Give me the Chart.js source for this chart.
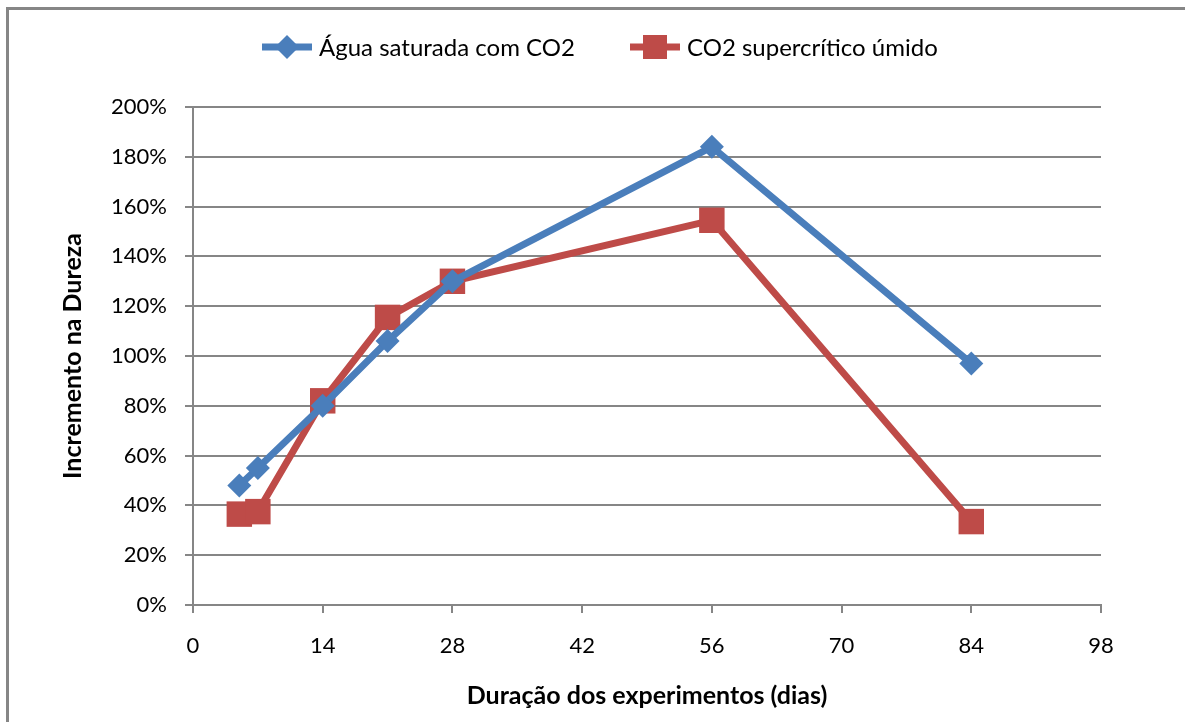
<!DOCTYPE html>
<html>
<head>
<meta charset="utf-8">
<script src="https://cdn.jsdelivr.net/npm/chart.js@4"></script>
<style>
  html, body { margin: 0; padding: 0; background: #fff; }
  #grafico { display: block; }
</style>
</head>
<body>
<canvas id="grafico" width="1185" height="722"></canvas>
<script>
// duração em dias e incremento na dureza (%)
const dias = [5, 7, 14, 21, 28, 56, 84];
const aguaSaturada = [48, 55, 80, 106, 130, 184, 97];
const co2Supercritico = [36.5, 37.5, 82, 115.5, 130, 154.5, 33.5];
const ticksX = [0, 14, 28, 42, 56, 70, 84, 98];
const ticksY = [0, 20, 40, 60, 80, 100, 120, 140, 160, 180, 200];

const AZUL = '#4a7ebb';
const VERMELHO = '#be4b48';
const CINZA = '#868686';
const FONTE = 'Lato, "Open Sans", sans-serif';

const pontos = (xs, ys) => xs.map((x, i) => ({ x: x, y: ys[i] }));

// moldura e legenda desenhadas à mão
const extras = {
  id: 'extras',
  beforeDraw(chart) {
    const c = chart.ctx;
    c.save();
    c.strokeStyle = CINZA;
    c.lineWidth = 3;
    c.strokeRect(7.5, 8.5, 1300, 900);
    c.restore();
  },
  afterDraw(chart) {
    const c = chart.ctx;
    const itens = [
      { x: 262, cor: AZUL, estilo: 'rectRot', raio: 12, texto: 'Água saturada com CO2' },
      { x: 630, cor: VERMELHO, estilo: 'rect', raio: 17, texto: 'CO2 supercrítico úmido' }
    ];
    const y = 47;
    c.save();
    itens.forEach(it => {
      c.strokeStyle = it.cor;
      c.lineWidth = 7;
      c.beginPath();
      c.moveTo(it.x, y);
      c.lineTo(it.x + 50, y);
      c.stroke();
      c.fillStyle = it.cor;
      Chart.helpers.drawPoint(c, { pointStyle: it.estilo, radius: it.raio, borderWidth: 0 }, it.x + 25, y);
      c.fillStyle = '#000';
      c.font = '24px ' + FONTE;
      c.textBaseline = 'middle';
      c.textAlign = 'left';
      c.fillText(it.texto, it.x + 57, y + 1);
    });
    c.restore();
  }
};

new Chart(document.getElementById('grafico'), {
  type: 'line',
  data: {
    datasets: [{
      label: 'Água saturada com CO2',
      data: pontos(dias, aguaSaturada),
      borderColor: AZUL,
      backgroundColor: AZUL,
      borderWidth: 7,
      pointStyle: 'rectRot',
      pointRadius: 12,
      pointBorderWidth: 0,
      tension: 0
    }, {
      label: 'CO2 supercrítico úmido',
      data: pontos(dias, co2Supercritico),
      borderColor: VERMELHO,
      backgroundColor: VERMELHO,
      borderWidth: 7,
      pointStyle: 'rect',
      pointRadius: 18,
      pointBorderWidth: 0,
      tension: 0
    }]
  },
  options: {
    responsive: false,
    animation: false,
    layout: { padding: { top: 107, right: 84, left: 0, bottom: 0 } },
    plugins: {
      legend: { display: false },
      tooltip: { enabled: false }
    },
    scales: {
      x: {
        type: 'linear',
        min: 0,
        max: 98,
        afterFit(s) { s.height = 117; },
        afterBuildTicks(s) { s.ticks = ticksX.map(v => ({ value: v })); },
        grid: { drawOnChartArea: false, color: CINZA, lineWidth: 2, tickLength: 8 },
        border: { color: CINZA, width: 2 },
        ticks: { color: '#000', font: { family: FONTE, size: 22 }, padding: 20, maxRotation: 0 },
        title: {
          display: true,
          text: 'Duração dos experimentos (dias)',
          color: '#000',
          font: { family: FONTE, size: 25, weight: 'bold' },
          padding: { top: 0, bottom: 11 }
        }
      },
      y: {
        min: 0,
        max: 200,
        afterFit(s) { s.width = 193; },
        afterBuildTicks(s) { s.ticks = ticksY.map(v => ({ value: v })); },
        grid: { color: CINZA, lineWidth: 2, tickLength: 8 },
        border: { color: CINZA, width: 2 },
        ticks: { color: '#000', font: { family: FONTE, size: 22 }, padding: 18, callback: v => v + '%' },
        title: {
          display: true,
          text: 'Incremento na Dureza',
          color: '#000',
          font: { family: FONTE, size: 25, weight: 'bold' },
          padding: { top: 58, bottom: 0 }
        }
      }
    }
  },
  plugins: [extras]
});
</script>
</body>
</html>
